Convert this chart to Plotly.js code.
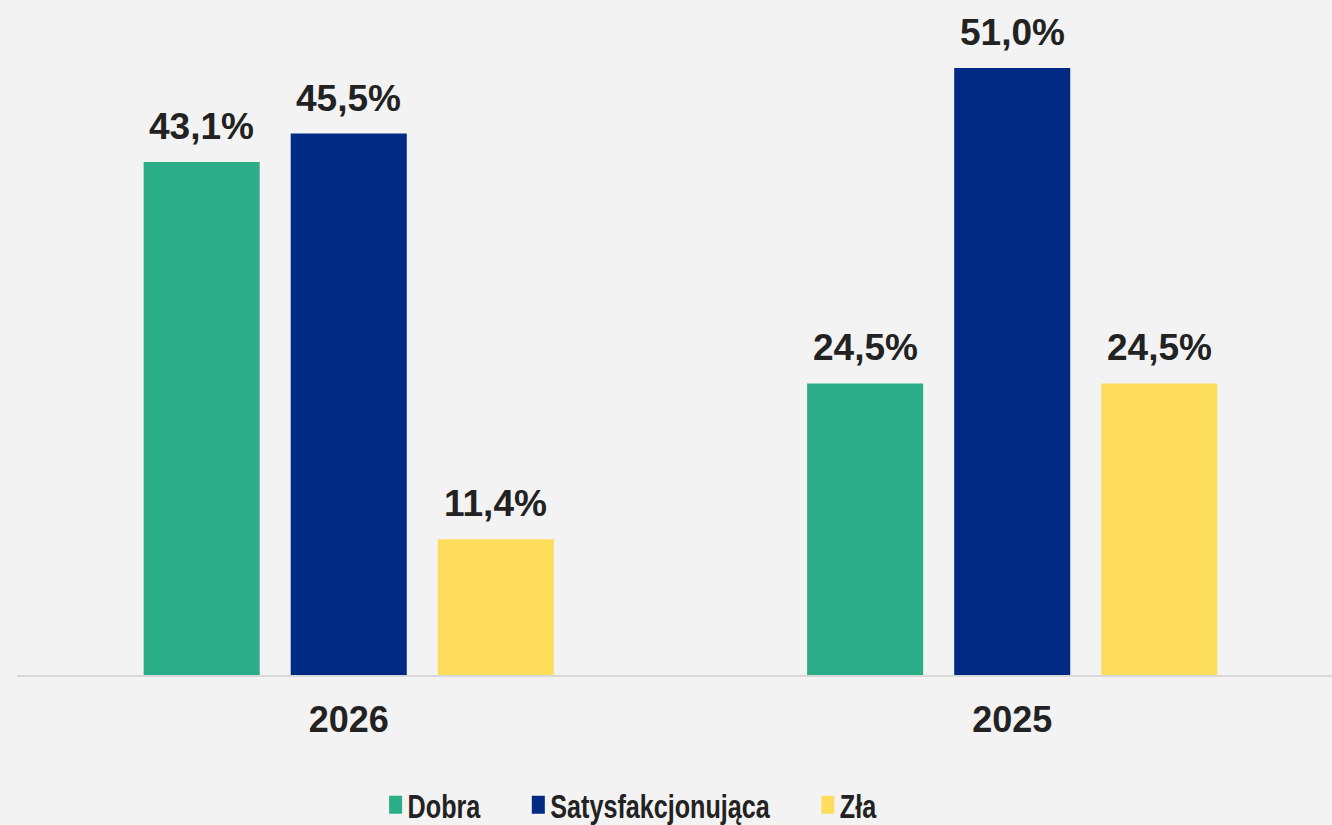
<!DOCTYPE html>
<html>
<head>
<meta charset="utf-8">
<script src="https://cdn.plot.ly/plotly-3.0.1.min.js"></script>
<style>
html,body{margin:0;padding:0;background:#f3f3f3;}
#chart{width:1332px;height:825px;}
</style>
</head>
<body>
<div id="chart"></div>
<script>
const categories = ["2026", "2025"];
const seriesNames = ["Dobra", "Satysfakcjonująca", "Zła"];
const dobra = [43.1, 24.5];
const satysfakcjonujaca = [45.5, 51.0];
const zla = [11.4, 24.5];
const colors = ["#2bae87", "#002a84", "#ffdd5c"];

const seriesValues = [dobra, satysfakcjonujaca, zla];
const fontMain = "Liberation Sans, Arial, sans-serif";
const textColor = "#222222";

const traces = seriesValues.map((vals, i) => ({
  type: "bar",
  name: seriesNames[i],
  x: categories,
  y: vals,
  marker: {color: colors[i]},
  hoverinfo: "skip"
}));

const fmt = v => v.toFixed(1).replace(".", ",") + "%";
const groupOffset = 0.2215;
const annotations = [];
seriesValues.forEach((vals, i) => {
  vals.forEach((v, j) => {
    annotations.push({
      x: j + (i - 1) * groupOffset,
      y: v,
      xref: "x", yref: "y",
      text: fmt(v),
      showarrow: false,
      yanchor: "bottom",
      yshift: 13,
      font: {family: fontMain, size: 37, color: textColor, weight: "bold"}
    });
  });
});

const layout = {
  width: 1332,
  height: 825,
  paper_bgcolor: "#f3f3f3",
  plot_bgcolor: "#f3f3f3",
  margin: {l: 17, r: 0, t: 20, b: 150},
  barmode: "group",
  bargap: 0.335,
  bargroupgap: 0.211,
  showlegend: true,
  legend: {
    orientation: "h",
    xref: "container", yref: "container",
    x: 0.282, y: 0.024,
    xanchor: "left", yanchor: "middle",
    bgcolor: "rgba(0,0,0,0)",
    font: {family: fontMain, size: 34, color: textColor, weight: "bold"},
    itemclick: false, itemdoubleclick: false
  },
  xaxis: {
    type: "category",
    range: [-0.5, 1.482],
    showline: true,
    linecolor: "#d9d9d9",
    linewidth: 2,
    ticks: "",
    ticklabelstandoff: 12,
    tickfont: {family: fontMain, size: 36, color: textColor, weight: "bold"},
    showgrid: false,
    zeroline: false,
    fixedrange: true
  },
  yaxis: {
    range: [0, 55.04],
    visible: false,
    showgrid: false,
    zeroline: false,
    fixedrange: true
  },
  annotations: annotations
};

// legend text is horizontally condensed in the reference
const legendSqueeze = 0.74;
const legendTextX = 32;
const legendItemGap = 38;

Plotly.newPlot("chart", traces, layout, {displayModeBar: false, staticPlot: true}).then(gd => {
  const items = gd.querySelectorAll(".legend .traces");
  let nextX = null;
  items.forEach((g, i) => {
    const m = /translate\(\s*([-\d.]+)[ ,]+([-\d.]+)\s*\)/.exec(g.getAttribute("transform") || "");
    if (!m) return;
    const y = parseFloat(m[2]);
    const x = nextX === null ? parseFloat(m[1]) : nextX;
    g.setAttribute("transform", "translate(" + x + "," + y + ")");
    const t = g.querySelector("text.legendtext");
    const w = t.getComputedTextLength() * legendSqueeze;
    t.setAttribute("x", legendTextX / legendSqueeze);
    t.setAttribute("transform", "scale(" + legendSqueeze + ",1)");
    const p = g.querySelector(".legendpoints path");
    if (p) {
      p.setAttribute("d", "M6.5,9H-6.5V-9H6.5Z");
    }
    nextX = x + legendTextX + w + legendItemGap;
  });
});
</script>
</body>
</html>
